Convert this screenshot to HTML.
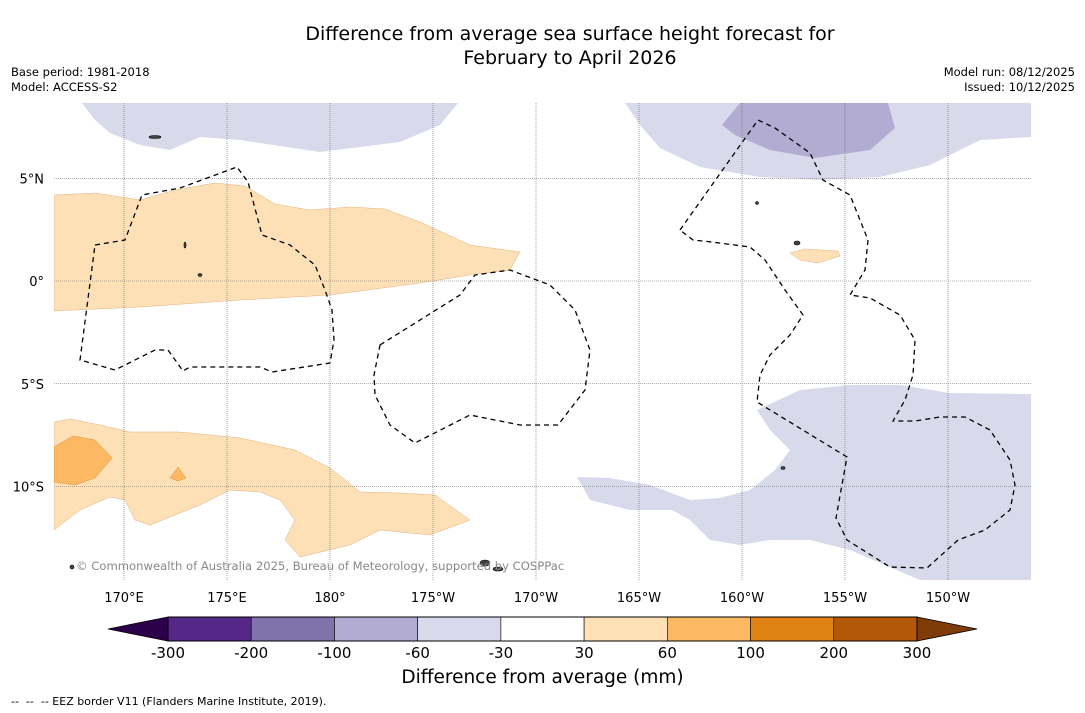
<!DOCTYPE html>
<html><head><meta charset="utf-8"><style>
body{margin:0;background:#fff;font-family:"DejaVu Sans","Liberation Sans",sans-serif;}
#wrap{position:relative;width:1085px;height:713px;overflow:hidden;background:#fff}
.t{position:absolute;white-space:nowrap}
svg text{font-family:"DejaVu Sans","Liberation Sans",sans-serif;}
</style></head><body>
<div id="wrap">
<div class="t" style="left:0;width:1140px;top:22px;text-align:center;font-size:19px;line-height:24px;color:#000">Difference from average sea surface height forecast for<br>February to April 2026</div>
<div class="t" style="left:11px;top:65px;font-size:11.5px;line-height:15px">Base period: 1981-2018<br>Model: ACCESS-S2</div>
<div class="t" style="right:10px;top:65px;font-size:11.5px;line-height:15px;text-align:right">Model run: 08/12/2025<br>Issued: 10/12/2025</div>
<svg id="svg" width="1085" height="713" style="position:absolute;left:0;top:0">
<defs><clipPath id="mc"><rect x="54" y="103" width="977" height="477"/></clipPath></defs>
<g clip-path="url(#mc)">
<polygon fill="#fee0b6" stroke="#e0b080" stroke-width="0.5" points="54,195 95,193 140,200 175,190 215,183 245,186 275,204 310,210 350,207 385,209 420,222 470,245 520,252 510,270 470,275 420,283 330,295 240,300 140,307 54,311"/>
<polygon fill="#fee0b6" stroke="#e0b080" stroke-width="0.5" points="54,422 70,419 100,425 130,432 180,432 240,438 295,450 330,468 360,492 400,493 435,495 470,520 430,535 380,530 350,545 300,557 285,540 295,520 280,500 260,492 230,490 200,505 175,515 150,525 135,520 125,500 110,497 80,510 54,530"/>
<polygon fill="#fdb863" stroke="#d89040" stroke-width="0.5" points="54,447 73,436 95,440 112,458 95,478 75,485 54,482"/>
<polygon fill="#fdb863" stroke="#d89040" stroke-width="0.5" points="170,478 178,467 186,478 178,481"/>
<polygon fill="#fee0b6" stroke="#e0b080" stroke-width="0.5" points="790,253 805,249 838,251 840,256 818,263 800,260"/>
<polygon fill="#d8daeb" points="82,103 458,103 440,125 400,142 360,147 320,152 280,146 240,140 200,137 170,150 140,145 110,133 95,120"/>
<polygon fill="#d8daeb" points="625,103 1031,103 1031,137 980,140 930,165 880,177 820,180 760,177 700,167 660,148 640,125"/>
<polygon fill="#b2abd2" points="740,103 888,103 895,128 870,150 815,158 770,150 735,135 722,125"/>
<polygon fill="#d8daeb" points="577,477 610,478 650,485 690,500 720,498 750,490 775,470 790,450 770,430 757,410 800,390 850,385 900,385 950,393 1031,394 1031,580 920,580 880,563 850,550 810,540 770,540 740,545 710,540 690,520 672,510 630,510 590,500"/>
<g id="grid"></g>
<g fill="none" stroke="#000" stroke-width="1.3" stroke-dasharray="5,4">
<polygon points="95,245 125,240 142,195 180,188 237,167 248,182 262,235 290,245 315,265 325,290 332,310 334,340 330,363 272,372 260,367 190,367 183,371 168,350 155,350 115,370 80,360"/>
<polygon points="380,345 460,295 475,275 510,270 550,285 575,310 590,350 585,390 558,425 520,425 470,415 415,443 390,425 375,395 374,375"/>
<polyline points="680,230 758,120 775,128 810,153 823,180 850,195 868,240 865,270 850,295 870,298 900,315 915,340 913,375 905,400 893,421 915,421 940,417 965,417 990,430 1010,460 1015,485 1010,510 985,530 958,540 927,568 890,567 847,540 836,518 847,457 757,402 760,375 770,355 790,335 803,315 785,290 765,260 750,247 712,242 693,240 680,230"/>
</g>
<g fill="#444" stroke="#000" stroke-width="0.6">
<ellipse cx="485" cy="563" rx="5" ry="3"/><ellipse cx="498" cy="569" rx="5" ry="2"/><ellipse cx="155" cy="137" rx="6" ry="1.5"/>
<ellipse cx="797" cy="243" rx="3" ry="2"/><ellipse cx="757" cy="203" rx="1.5" ry="1.5"/><ellipse cx="72" cy="567" rx="2" ry="2"/>
<ellipse cx="185" cy="245" rx="1" ry="3"/><ellipse cx="200" cy="275" rx="2" ry="1.5"/><ellipse cx="783" cy="468" rx="2" ry="1.5"/>
</g>
</g>
<g id="axislabels"></g>
<g id="cbar"></g>
</svg>
<div class="t" style="left:0;width:1085px;top:667px;text-align:center;font-size:18.5px">Difference from average (mm)</div>
<div class="t" style="left:76px;top:559px;font-size:11.6px;color:#888">© Commonwealth of Australia 2025, Bureau of Meteorology, supported by COSPPac</div>
<div class="t" style="left:11px;top:695px;font-size:11px">--&nbsp; --&nbsp; -- EEZ border V11 (Flanders Marine Institute, 2019).</div>
</div>
<script>
const lonTicks=[170,175,180,185,190,195,200,205,210];
const lonLabels=["170°E","175°E","180°","175°W","170°W","165°W","160°W","155°W","150°W"];
const latTicks=[5,0,-5,-10];
const latLabels=["5°N","0°","5°S","10°S"];
const cbBounds=["-300","-200","-100","-60","-30","30","60","100","200","300"];
const cbColors=["#542788","#8073ac","#b2abd2","#d8daeb","#ffffff","#fee0b6","#fdb863","#e08214","#b35806"];
const NS="http://www.w3.org/2000/svg";
function xLon(l){return 124+(l-170)*20.6;}
function yLat(l){return 281-l*20.55;}
const grid=document.getElementById('grid'),al=document.getElementById('axislabels'),cb=document.getElementById('cbar');
function mk(t,a,p){const e=document.createElementNS(NS,t);for(const k in a)e.setAttribute(k,a[k]);p.appendChild(e);return e;}
lonTicks.forEach((l,i)=>{const x=xLon(l);
 const g=mk('line',{x1:x,x2:x,y1:103,y2:580,stroke:'#666','stroke-width':0.6,'stroke-dasharray':'1,1'},grid);
 
 
 const t=mk('text',{x:x,y:602,'text-anchor':'middle','font-size':13,fill:'#000'},al);t.textContent=lonLabels[i];
 
 });
latTicks.forEach((l,i)=>{const y=yLat(l);
 const g=mk('line',{x1:54,x2:1031,y1:y,y2:y,stroke:'#666','stroke-width':0.6,'stroke-dasharray':'1,1'},grid);
 
 
 const t=mk('text',{x:44,y:y+5,'text-anchor':'end','font-size':13,fill:'#000'},al);t.textContent=latLabels[i];
 
 });
const cx0=168,cx1=917,cy=617,ch=24,w=(cx1-cx0)/cbColors.length;
const l=mk('polygon',{points:`${cx0},${cy} 108,${cy+ch/2} ${cx0},${cy+ch}`,fill:'#2d004b',stroke:'#000','stroke-width':0.8},cb);


const r=mk('polygon',{points:`${cx1},${cy} 977,${cy+ch/2} ${cx1},${cy+ch}`,fill:'#7f3b08',stroke:'#000','stroke-width':0.8},cb);


cbColors.forEach((c,i)=>{const b=mk('rect',{x:cx0+i*w,y:cy,width:w,height:ch,fill:c,stroke:'#000','stroke-width':0.6},cb);
 
 });
mk('rect',{x:cx0,y:cy,width:cx1-cx0,height:ch,fill:'none',stroke:'#000','stroke-width':1},cb);
cbBounds.forEach((s,i)=>{const t=mk('text',{x:cx0+i*w,y:658,'text-anchor':'middle','font-size':15,fill:'#000'},cb);t.textContent=s;
 
 });
</script>
</body></html>
